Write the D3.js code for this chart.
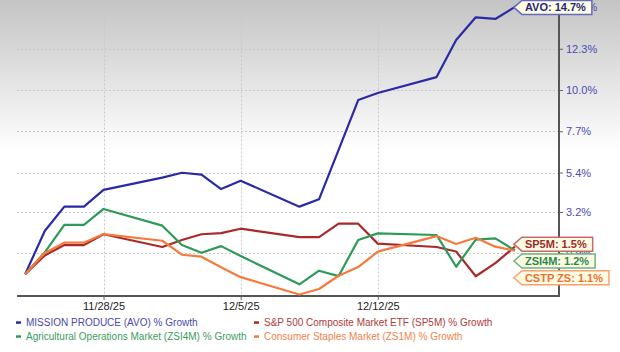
<!DOCTYPE html>
<html>
<head>
<meta charset="utf-8">
<script src="https://cdn.jsdelivr.net/npm/d3@7"></script>
<style>
  body { margin: 0; background: #fff; }
  svg { display: block; font-family: Arial, "Liberation Sans", sans-serif; }
</style>
</head>
<body>
<svg id="chart"></svg>
<script>
const dates = ["2025-11-24", "2025-11-25", "2025-11-26", "2025-11-27", "2025-11-28",
    "2025-12-01", "2025-12-02", "2025-12-03", "2025-12-04", "2025-12-05",
    "2025-12-08", "2025-12-09", "2025-12-10", "2025-12-11", "2025-12-12",
    "2025-12-15", "2025-12-16", "2025-12-17", "2025-12-18", "2025-12-19"];
const avo   = [-0.26, 2.14, 3.50, 3.50, 4.43, 5.12, 5.39, 5.28, 4.48, 4.94, 3.50, 3.91, 6.66, 9.44, 9.83, 10.72, 12.79, 14.05, 13.96, 14.63];
const sp5m  = [-0.26, 0.78, 1.36, 1.36, 1.96, 1.25, 1.64, 1.96, 2.02, 2.27, 1.80, 1.80, 2.55, 2.55, 1.44, 1.25, 1.00, -0.38, 0.35, 1.27];
const zsi4m = [-0.26, 0.95, 2.48, 2.48, 3.37, 2.44, 1.36, 0.93, 1.30, 0.75, -0.83, -0.07, -0.37, 1.64, 2.01, 1.92, 0.15, 1.66, 1.73, 1.06];
const zs1m  = [-0.26, 0.92, 1.49, 1.49, 1.97, 1.60, 0.82, 0.71, 0.12, -0.43, -1.40, -1.09, -0.35, 0.13, 0.99, 1.86, 1.42, 1.77, 1.27, 1.04];

const yTicks = [0.9, 3.2, 5.4, 7.7, 10.0, 12.3, 14.6];
const xTicks = ["2025-11-28", "2025-12-05", "2025-12-12"];

const seriesNames = ["MISSION PRODUCE (AVO) % Growth", "S&P 500 Composite Market ETF (SP5M) % Growth",
    "Agricultural Operations Market (ZSI4M) % Growth", "Consumer Staples Market (ZS1M) % Growth"];
const endLabels = ["AVO: 14.7%", "SP5M: 1.5%", "ZSI4M: 1.2%", "CSTP ZS: 1.1%"];

const lineColors = ["#2a2aa6", "#a82a2a", "#2e9a58", "#f57a3c"];
const textColors = ["#4848b0", "#b03a3a", "#3c9c5e", "#f2824a"];
const boxStroke = ["#6868c0", "#c46c6c", "#6cb482", "#f8a070"];
const boxText = ["#26267e", "#9c2c2c", "#2a8a4c", "#ee7030"];

const width = 620, height = 352;
const margin = ({top: 8, right: 62, bottom: 56, left: 17});
const parse = d3.timeParse("%Y-%m-%d");

const svg = d3.select("#chart")
    .attr("width", width)
    .attr("height", height)
    .attr("viewBox", [0, 0, width, height]);

// grey fade at the top
const grad = svg.append("defs").append("linearGradient")
    .attr("id", "bg").attr("x1", 0).attr("y1", 0).attr("x2", 0).attr("y2", 1);
grad.append("stop").attr("offset", 0).attr("stop-color", "#c4c4c4");
grad.append("stop").attr("offset", 0.43).attr("stop-color", "#ffffff");
grad.append("stop").attr("offset", 1).attr("stop-color", "#ffffff");
svg.append("rect").attr("width", width).attr("height", height).attr("fill", "url(#bg)");

const x = d3.scaleTime()
    .domain([new Date(2025, 10, 23, 14), new Date(2025, 11, 21, 6)])
    .range([margin.left, width - margin.right + 1]);

const y = d3.scaleLinear()
    .domain([-1.48, 14.57])
    .range([height - margin.bottom, margin.top]);

const x0 = margin.left, x1 = width - margin.right + 1;
const yb = height - margin.bottom;

// grid
svg.append("g")
    .attr("stroke", "#c8c8c8")
    .attr("stroke-dasharray", "2,2")
    .selectAll("line")
    .data(yTicks)
    .join("line")
    .attr("x1", x0).attr("x2", x1)
    .attr("y1", d => Math.round(y(d)) + 0.5).attr("y2", d => Math.round(y(d)) + 0.5);

svg.append("g")
    .attr("stroke", "#c8c8c8")
    .attr("stroke-dasharray", "2,2")
    .selectAll("line")
    .data(xTicks)
    .join("line")
    .attr("x1", d => Math.round(x(parse(d))) + 0.5).attr("x2", d => Math.round(x(parse(d))) + 0.5)
    .attr("y1", y(yTicks[yTicks.length - 1])).attr("y2", yb);

// right axis
let yAxis = g => g
    .attr("transform", `translate(${x1},0)`)
    .call(d3.axisRight(y).tickValues(yTicks).tickSize(4).tickPadding(3).tickFormat(d => d3.format(".1f")(d) + "%"))
    .call(g => g.select(".domain").remove())
    .call(g => g.selectAll(".tick line").attr("stroke", "#666"))
    .call(g => g.selectAll(".tick text").attr("fill", "#4a4ab6").style("font-size", "11px"));
svg.append("g").call(yAxis);

let xAxis = g => g
    .attr("transform", `translate(0,${yb})`)
    .call(d3.axisBottom(x).tickValues(xTicks.map(parse)).tickSize(4).tickPadding(2).tickFormat(d3.timeFormat("%-m/%-d/%y")))
    .call(g => g.select(".domain").remove())
    .call(g => g.selectAll(".tick line").attr("stroke", "#666"))
    .call(g => g.selectAll(".tick text").attr("fill", "#222").style("font-size", "11px"));
svg.append("g").call(xAxis);

svg.append("line").attr("x1", x0).attr("x2", x1 + 1).attr("y1", yb).attr("y2", yb)
    .attr("stroke", "#555").attr("stroke-width", 2);
svg.append("line").attr("x1", x1).attr("x2", x1).attr("y1", margin.top).attr("y2", yb)
    .attr("stroke", "#555").attr("stroke-width", 2);

// lines
const all = [avo, sp5m, zsi4m, zs1m];
const line = d3.line()
    .x((d, i) => x(parse(dates[i])))
    .y(d => y(d));

svg.append("g")
    .attr("fill", "none")
    .attr("stroke-width", 2.2)
    .attr("stroke-linejoin", "round")
    .selectAll("path")
    .data(all)
    .join("path")
    .attr("stroke", (d, i) => lineColors[i])
    .attr("d", line);

// end labels (the three small ones stacked under each other)
const lastX = x(parse(dates[dates.length - 1]));
const labelY = [y(avo[avo.length - 1]) + 0.5];
const stackTop = y(sp5m[sp5m.length - 1]) - 2.5;
for (let k = 0; k < 3; k++) labelY.push(stackTop + k * 16.8);

const tags = svg.append("g")
    .selectAll("g")
    .data(endLabels)
    .join("g")
    .attr("transform", (d, i) => `translate(${lastX - 1},${labelY[i]})`);

tags.append("path").attr("class", "box")
    .attr("fill", "#fdfbe2")
    .attr("stroke", (d, i) => boxStroke[i])
    .attr("stroke-width", 1.5);

tags.append("text")
    .attr("x", 11)
    .attr("dy", "0.36em")
    .attr("fill", (d, i) => boxText[i])
    .style("font-size", "11px")
    .style("font-weight", "bold")
    .text(d => d);

tags.each(function () {
    const g = d3.select(this);
    const w = g.select("text").node().getComputedTextLength() + 17;
    g.select(".box").attr("d", `M0,0L8,-7H${w}V7H8Z`);
});

// legend
const legend = svg.append("g")
    .selectAll("g")
    .data(seriesNames)
    .join("g")
    .attr("transform", (d, i) => `translate(${i % 2 ? 254 : 16},${i < 2 ? 322.5 : 336.5})`);

legend.append("rect")
    .attr("width", 5).attr("height", 2.5).attr("y", -1.2)
    .attr("fill", (d, i) => lineColors[i]);

legend.append("text")
    .attr("x", i => 10)
    .attr("dy", "0.35em")
    .attr("fill", (d, i) => textColors[i])
    .style("font-size", "10px")
    .text(d => d);
</script>
</body>
</html>
